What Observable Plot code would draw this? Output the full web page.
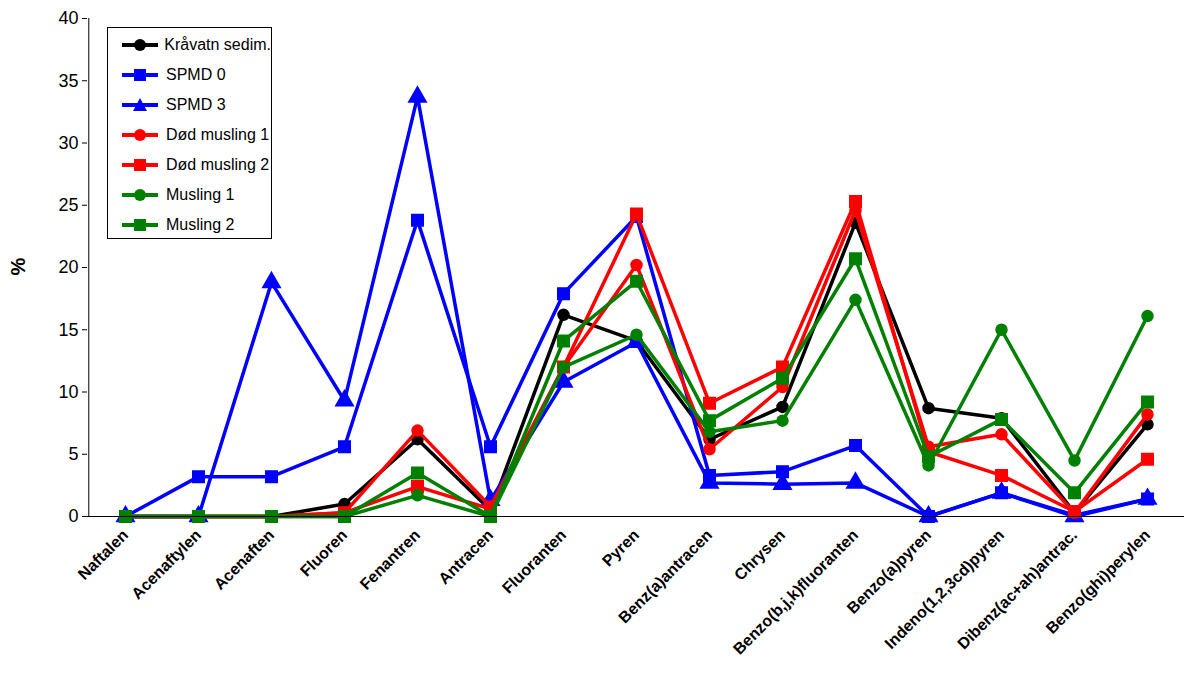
<!DOCTYPE html>
<html><head><meta charset="utf-8">
<script src="https://cdn.jsdelivr.net/npm/d3@7"></script>
<script src="https://cdn.jsdelivr.net/npm/@observablehq/plot@0.6"></script>
<style>
body{margin:0;background:#fff;font-family:"Liberation Sans",Arial,sans-serif}
#wrap{position:relative;width:1184px;height:697px}
#legend{position:absolute;left:107px;top:27px;width:165px;height:212px;border:1px solid #000;background:#fff;font-size:16px;white-space:nowrap;box-sizing:border-box;padding-top:2px}
#legend div{height:30px;display:flex;align-items:center}
#ylab{position:absolute;left:10px;top:255px;font-size:20px;font-weight:bold;transform:rotate(-90deg)}
</style></head><body>
<div id="wrap"><div id="chart"></div><div id="legend"></div><div id="ylab">%</div></div>
<script>
const compounds = ["Naftalen","Acenaftylen","Acenaften","Fluoren","Fenantren","Antracen","Fluoranten","Pyren","Benz(a)antracen","Chrysen","Benzo(b,j,k)fluoranten","Benzo(a)pyren","Indeno(1,2,3cd)pyren","Dibenz(ac+ah)antrac.","Benzo(ghi)perylen"];
const kravatn  = [0,0,0,1.0,6.2,0.5,16.2,14.1,6.2,8.8,23.6,8.7,7.9,0.3,7.4];
const spmd0    = [0,3.2,3.2,5.6,23.8,5.6,17.9,24.1,3.3,3.6,5.7,0,1.9,0.1,1.4];
const spmd3    = [0,0,18.8,9.3,33.7,1.3,10.8,14.0,2.7,2.6,2.7,0,1.9,0,1.4];
const dod1     = [0,0,0,0.3,6.9,0.8,12.0,20.2,5.4,10.4,24.6,5.6,6.6,0.3,8.2];
const dod2     = [0,0,0,0.3,2.4,0.6,12.0,24.3,9.1,12.0,25.3,5.2,3.3,0.4,4.6];
const musling1 = [0,0,0,0,1.7,0,12.0,14.6,6.8,7.7,17.4,4.1,15.0,4.5,16.1];
const musling2 = [0,0,0,0,3.5,0,14.1,18.9,7.7,11.1,20.7,4.8,7.8,1.9,9.2];

const series = [
  {name:"Kråvatn sedim.", values:kravatn, color:"#000000", symbol:"circle"},
  {name:"SPMD 0", values:spmd0, color:"#0000ff", symbol:"square"},
  {name:"SPMD 3", values:spmd3, color:"#0000ff", symbol:"triangle"},
  {name:"Død musling 1", values:dod1, color:"#ff0000", symbol:"circle"},
  {name:"Død musling 2", values:dod2, color:"#ff0000", symbol:"square"},
  {name:"Musling 1", values:musling1, color:"#008000", symbol:"circle"},
  {name:"Musling 2", values:musling2, color:"#008000", symbol:"square"}
];

const marks = [];
for (const s of series) {
  const d = compounds.map((c,i)=>({c, v:s.values[i]}));
  marks.push(Plot.line(d,{x:"c",y:"v",stroke:s.color,strokeWidth:3.5}));
  marks.push(Plot.dot(d,{x:"c",y:"v",fill:s.color,stroke:s.color,symbol:s.symbol,r:s.symbol==="circle"?5.5:6.5}));
}
marks.push(Plot.ruleY([0]));
marks.push(Plot.ruleX([compounds[0]],{dx:-36.7,y1:0,y2:40}));

const chart = Plot.plot({
  width:1184, height:697,
  marginLeft:87, marginRight:0, marginTop:18, marginBottom:181,
  style:{fontFamily:"Liberation Sans, Arial, sans-serif", fontSize:"16px", fontWeight:"bold"},
  x:{type:"point", domain:compounds, padding:0.5, tickRotate:-45, tickSize:0, tickPadding:16, label:null},
  y:{domain:[0,40], ticks:d3.range(0,41,5), tickSize:5, label:null},
  marks
});
d3.select(chart).selectAll("[aria-label='y-axis tick label']").style("font-weight","normal").style("font-size","18px");
document.getElementById("chart").append(chart);

const lg = d3.select("#legend");
for (const s of series) {
  const row = lg.append("div");
  const sv = row.append("svg").attr("width",58).attr("height",20);
  sv.append("line").attr("x1",14).attr("x2",50).attr("y1",10).attr("y2",10).attr("stroke",s.color).attr("stroke-width",4);
  if (s.symbol==="circle") sv.append("circle").attr("cx",32).attr("cy",10).attr("r",6).attr("fill",s.color);
  else if (s.symbol==="square") sv.append("rect").attr("x",26).attr("y",4).attr("width",12).attr("height",12).attr("fill",s.color);
  else sv.append("path").attr("d","M32,3L39,16L25,16Z").attr("fill",s.color);
  row.append("span").text(s.name);
}
</script></body></html>
